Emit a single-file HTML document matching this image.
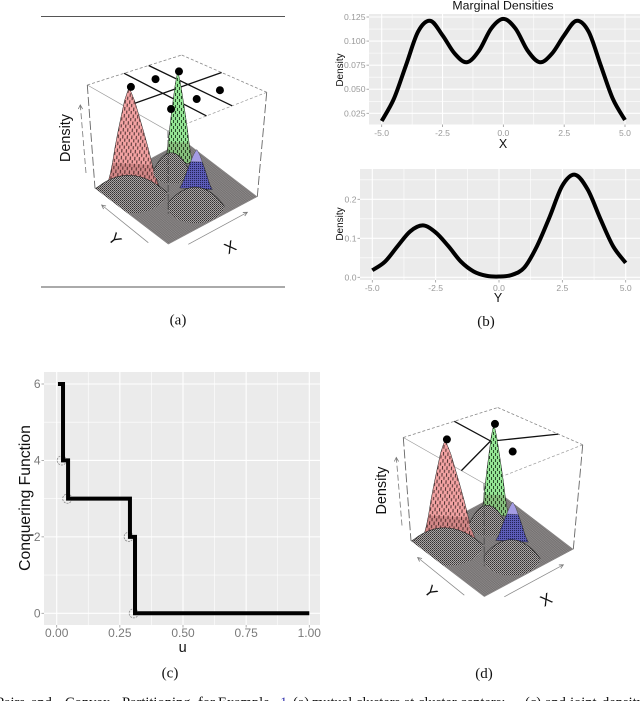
<!DOCTYPE html>
<html>
<head>
<meta charset="utf-8">
<title>Marginal densities and conquering function</title>
<style>
html,body{margin:0;padding:0;background:#fff;width:640px;height:701px;overflow:hidden}
svg{display:block;filter:blur(.35px)}
text{font-family:"Liberation Sans",sans-serif}
.serif{font-family:"Liberation Serif",serif}
</style>
</head>
<body>
<svg id="figure" xmlns="http://www.w3.org/2000/svg" width="640" height="701" viewBox="0 0 640 701">
  <defs>
    <pattern id="dash-red" width="4.5" height="7" patternUnits="userSpaceOnUse" patternTransform="rotate(4)">
      <rect x="1" y="0" width="1.1" height="3.6" fill="#1c1010" opacity=".75"/>
      <rect x="3.2" y="3.5" width="1.1" height="3.2" fill="#1c1010" opacity=".75"/>
    </pattern>
    <pattern id="dash-green" width="4" height="6" patternUnits="userSpaceOnUse">
      <rect x="1" y="0" width="1" height="3" fill="#0e2410" opacity=".8"/>
      <rect x="3" y="3" width="1" height="3" fill="#0e2410" opacity=".8"/>
    </pattern>
    <pattern id="dash-blue" width="2" height="2" patternUnits="userSpaceOnUse">
      <rect x="0" y="0" width="1" height="1" fill="#14143c" opacity=".8"/>
    </pattern>
    <pattern id="speckle" width="2" height="2" patternUnits="userSpaceOnUse">
      <rect width="2" height="2" fill="#aaa6a6"/>
      <rect x="0" y="0" width="1" height="1" fill="#333030"/>
      <rect x="1" y="1" width="1" height="1" fill="#555252"/>
    </pattern>
  </defs>
</svg>
<script>
/* ---------- marginal density X ---------- */
const marginalXPositions = [-5,-4.5,-4,-3.5,-3,-2.5,-2,-1.5,-1,-0.5,0,0.5,1,1.5,2,2.5,3,3.5,4,4.5,5];
const marginalXDensity = [0.017,0.040,0.075,0.110,0.121,0.106,0.087,0.078,0.090,0.113,0.123,0.113,0.090,0.078,0.087,0.106,0.121,0.110,0.075,0.040,0.018];
const marginalXTicksX = ["-5.0","-2.5","0.0","2.5","5.0"];
const marginalXTickValuesX = [-5,-2.5,0,2.5,5];
const marginalXTicksY = ["0.025","0.050","0.075","0.100","0.125"];
const marginalXTickValuesY = [0.025,0.05,0.075,0.1,0.125];
/* ---------- marginal density Y ---------- */
const marginalYPositions = [-5,-4.5,-4,-3.5,-3,-2.5,-2,-1.5,-1,-0.5,0,0.5,1,1.5,2,2.5,3,3.5,4,4.5,5];
const marginalYDensity = [0.018,0.040,0.080,0.118,0.133,0.115,0.080,0.040,0.015,0.004,0.002,0.006,0.025,0.080,0.155,0.235,0.263,0.225,0.150,0.080,0.037];
const marginalYTicksX = ["-5.0","-2.5","0.0","2.5","5.0"];
const marginalYTickValuesX = [-5,-2.5,0,2.5,5];
const marginalYTicksY = ["0.0","0.1","0.2"];
const marginalYTickValuesY = [0,0.1,0.2];
/* ---------- conquering function ---------- */
const conqueringU = [0.005,0.025,0.025,0.045,0.045,0.29,0.29,0.31,0.31,1];
const conqueringValue = [6,6,4,4,3,3,2,2,0,0];
const jumpU = [0.02,0.042,0.285,0.305];
const jumpValue = [4,3,2,0];
const conqueringTicksX = ["0.00","0.25","0.50","0.75","1.00"];
const conqueringTickValuesX = [0,0.25,0.5,0.75,1];
const conqueringTicksY = ["0","2","4","6"];
const conqueringTickValuesY = [0,2,4,6];
/* ---------- 3-D density surface (data units: x,y in -5..5, z in 0..1) ---------- */
const peakNames = ["green","red","blue"];
const peakX = [2.5,-2.55,1.53];
const peakY = [2.65,2.72,-0.85];
const peakHeight = [1,1,0.4];
const peakSpread = [0.52,1,0.62];
const peakFill = ["#93e493","#f4a3a3","#5c5cb8"];
const profileLevel = [1,0.95,0.87,0.7,0.55,0.4,0.25,0.15,0.08,0.03];
const profileWidth = [0,0.12,0.29,0.55,0.78,1.0,1.2,1.36,1.5,1.62];
const domeNames = ["green","blue","red"];
const domeX = [1.5,0.23,-2.8];
const domeY = [2.39,-2.43,2.7];
const domeRadius = [1.15,1.75,2.2];
const domeHeight = [0.2,0.17,0.15];
const dotsAX = [-2.34,0.18,2.62,-2.42,0.26,2.67];
const dotsAY = [2.74,2.67,2.65,-2.26,-2.2,-2.17];
const dotsDX = [-2.34,2.62,0.26];
const dotsDY = [2.74,2.65,-2.2];
const partitionA = [[[-1.1,5],[-1.1,-5]],[[1.5,5],[1.5,-5]],[[-5,0.3],[5,0.3]]];
const partitionD = [[[0.4,5],[0.2,0.4],[-5,-2.2]],[[0.2,0.4],[0.85,0.03],[5,-2.13]]];

const svg = document.getElementById('figure');
const NS = 'http://www.w3.org/2000/svg';
function make(tag, attrs, parent){
  const n = document.createElementNS(NS, tag);
  for (const k in attrs) n.setAttribute(k, attrs[k]);
  (parent || svg).appendChild(n);
  return n;
}
function scale(d0,d1,r0,r1){ return v => r0 + (v-d0)/(d1-d0)*(r1-r0); }
function smoothPath(pts){
  let d = 'M'+pts[0][0].toFixed(2)+' '+pts[0][1].toFixed(2);
  for (let i=0;i<pts.length-1;i++){
    const p0=pts[Math.max(i-1,0)],p1=pts[i],p2=pts[i+1],p3=pts[Math.min(i+2,pts.length-1)];
    const c1=[p1[0]+(p2[0]-p0[0])/6,p1[1]+(p2[1]-p0[1])/6];
    const c2=[p2[0]-(p3[0]-p1[0])/6,p2[1]-(p3[1]-p1[1])/6];
    d+=' C'+c1[0].toFixed(2)+' '+c1[1].toFixed(2)+' '+c2[0].toFixed(2)+' '+c2[1].toFixed(2)+' '+p2[0].toFixed(2)+' '+p2[1].toFixed(2);
  }
  return d;
}

/* generic ggplot-style panel */
function drawPanel(cfg){
  const g = make('g', {});
  
  
  const bg = make('rect', {x:cfg.left,y:cfg.top,width:cfg.right-cfg.left,height:cfg.bottom-cfg.top,fill:'#ebebeb'}, g);
  
  
  cfg.xTickValues.forEach((v,i)=>{
    if (i<cfg.xTickValues.length-1){
      const m=(v+cfg.xTickValues[i+1])/2;
      const minor=make('line',{x1:cfg.sx(m),x2:cfg.sx(m),y1:cfg.top,y2:cfg.bottom,stroke:'#fff','stroke-width':.6},g);
      
      
    }
    const major=make('line',{x1:cfg.sx(v),x2:cfg.sx(v),y1:cfg.top,y2:cfg.bottom,stroke:'#fff','stroke-width':1.1},g);
    
    
    const tick=make('line',{x1:cfg.sx(v),x2:cfg.sx(v),y1:cfg.bottom,y2:cfg.bottom+2.5,stroke:'#999','stroke-width':.8},g);
    
    
    const t=make('text',{x:cfg.sx(v),y:cfg.xTickY,'text-anchor':'middle','font-size':cfg.tickSize,fill:cfg.tickColor},g);
    t.textContent=cfg.xTicks[i];
    
    
  });
  const yv=cfg.yTickValues;
  const step=yv[1]-yv[0];
  for(let i=-1;i<yv.length+1;i++){
    const py=cfg.sy(yv[0]+(i+.5)*step);
    if(py>cfg.top&&py<cfg.bottom){
      const minor=make('line',{x1:cfg.left,x2:cfg.right,y1:py,y2:py,stroke:'#fff','stroke-width':.6},g);
      
      
    }
  }
  yv.forEach((v,i)=>{
    const major=make('line',{x1:cfg.left,x2:cfg.right,y1:cfg.sy(v),y2:cfg.sy(v),stroke:'#fff','stroke-width':1.1},g);
    
    
    const tick=make('line',{x1:cfg.left-2.5,x2:cfg.left,y1:cfg.sy(v),y2:cfg.sy(v),stroke:'#999','stroke-width':.8},g);
    
    
    const t=make('text',{x:cfg.left-3.5,y:cfg.sy(v)+cfg.tickSize*.35,'text-anchor':'end','font-size':cfg.tickSize,fill:cfg.tickColor},g);
    t.textContent=cfg.yTicks[i];
    
    
  });
  const xt=make('text',{x:cfg.xTitle[1],y:cfg.xTitle[2],'text-anchor':'middle','font-size':cfg.xTitle[3],fill:'#111'},g);
  xt.textContent=cfg.xTitle[0];
  
  
  const yt=make('text',{transform:'translate('+cfg.yTitle[1]+' '+cfg.yTitle[2]+') rotate(-90)','text-anchor':'middle','font-size':cfg.yTitle[3],fill:'#111'},g);
  yt.textContent=cfg.yTitle[0];
  
  
  return g;
}

/* panel b, top */
const bTopX = scale(-5,5,381.7,625);
const bTopY = scale(0.025,0.125,113.3,17);
const bTop = drawPanel({name:'marginal-x-panel',left:369,right:640,top:14,bottom:124.5,sx:bTopX,sy:bTopY,
  xTicks:marginalXTicksX,xTickValues:marginalXTickValuesX,yTicks:marginalXTicksY,yTickValues:marginalXTickValuesY,
  xTickY:136,tickSize:8.6,tickColor:'#999',xTitle:['X',503,148,12.5],yTitle:['Density',343,70,10]});
const bTopCurve = make('path',{d:smoothPath(marginalXPositions.map((v,i)=>[bTopX(v),bTopY(marginalXDensity[i])])),fill:'none',stroke:'#000','stroke-width':4,'stroke-linejoin':'round'},bTop);


const chartTitle = make('text',{x:503,y:9.5,'text-anchor':'middle','font-size':12.3,fill:'#111'},bTop);
chartTitle.textContent='Marginal Densities';



/* panel b, bottom */
const bBotX = scale(-5,5,372.3,625.7);
const bBotY = scale(0,0.2,277.3,199.3);
const bBot = drawPanel({name:'marginal-y-panel',left:360,right:640,top:169,bottom:280,sx:bBotX,sy:bBotY,
  xTicks:marginalYTicksX,xTickValues:marginalYTickValuesX,yTicks:marginalYTicksY,yTickValues:marginalYTickValuesY,
  xTickY:291,tickSize:8.6,tickColor:'#999',xTitle:['Y',498,302,12.5],yTitle:['Density',343,224,10]});
const bBotCurve = make('path',{d:smoothPath(marginalYPositions.map((v,i)=>[bBotX(v),bBotY(marginalYDensity[i])])),fill:'none',stroke:'#000','stroke-width':4,'stroke-linejoin':'round'},bBot);



/* panel c */
const cX = scale(0,1,56.7,309.3);
const cY = scale(0,6,613.3,384);
const cPanel = drawPanel({name:'conquering-function-panel',left:44,right:320,top:372,bottom:625,sx:cX,sy:cY,
  xTicks:conqueringTicksX,xTickValues:conqueringTickValuesX,yTicks:conqueringTicksY,yTickValues:conqueringTickValuesY,
  xTickY:637,tickSize:12,tickColor:'#7a7a7a',xTitle:['u',182.7,652,14.5],yTitle:['Conquering Function',30,498,15.7]});
jumpU.forEach((u,i)=>{
  const c=make('circle',{cx:cX(u),cy:cY(jumpValue[i]),r:4.6,fill:'none',stroke:'#888','stroke-width':.8,'stroke-dasharray':'2 1'},cPanel);
  
  
});
const cLine = make('polyline',{points:conqueringU.map((u,i)=>cX(u).toFixed(2)+','+cY(conqueringValue[i]).toFixed(2)).join(' '),fill:'none',stroke:'#000','stroke-width':4,'stroke-linejoin':'miter'},cPanel);



/* 3-D perspective panels */
const floorBottom=[168.3,244.3], floorRight=[257.3,196.7], floorLeft=[95,188.3], floorBack=[184,140.7];
const topFront=[168,131], topRight=[266.7,92.3], topLeft=[87.3,85], topBack=[181.7,55];
function makeProject(ox,oy){
  return function(x,y,z){
    const u=(x+5)/10, v=(y+5)/10;
    const bl=(a,b,c,d,k)=>(1-u)*(1-v)*a[k]+u*(1-v)*b[k]+(1-u)*v*c[k]+u*v*d[k];
    const fx=bl(floorBottom,floorRight,floorLeft,floorBack,0), fy=bl(floorBottom,floorRight,floorLeft,floorBack,1);
    const tx=bl(topFront,topRight,topLeft,topBack,0), ty=bl(topFront,topRight,topLeft,topBack,1);
    return [ox+fx+(tx-fx)*z, oy+fy+(ty-fy)*z];
  };
}
const ptsAttr = a => a.map(p=>p[0].toFixed(2)+','+p[1].toFixed(2)).join(' ');

function drawPersp(ox,oy,name,partition,dotsX,dotsY){
  const P = makeProject(ox,oy);
  const g = make('g',{});
  
  
  function edge(a,b,dash,col,w,label){
    const l=make('line',{x1:a[0],y1:a[1],x2:b[0],y2:b[1],stroke:col,'stroke-width':w,'stroke-dasharray':dash},g);
    
    
    return l;
  }
  /* box */
  edge(P(-5,5,1),P(5,5,1),'3 2','#888',.8,'box-edge');
  edge(P(5,5,1),P(5,-5,1),'3 2','#888',.8,'box-edge');
  edge(P(-5,5,1),P(-5,-5,1),'none','#999',.7,'box-edge');
  edge(P(5,-5,1),P(-5,-5,1),'3 2','#999',.7,'box-edge');
  edge(P(-5,5,1),P(-5,5,0),'9 3','#666',.9,'box-edge');
  edge(P(5,-5,1),P(5,-5,0),'9 3','#666',.9,'box-edge');
  /* partition on the top plane */
  partition.forEach(seg=>{
    const pl=make('polyline',{points:ptsAttr(seg.map(s=>P(s[0],s[1],1))),fill:'none',stroke:'#111','stroke-width':1.3},g);
    
    
  });
  /* floor */
  const floor=make('polygon',{points:ptsAttr([P(-5,-5,0),P(5,-5,0),P(5,5,0),P(-5,5,0)]),fill:'#8f8b8b'},g);
  
  
  for(let i=0;i<=60;i++){
    const t=-5+i/6;
    const m1=make('line',{x1:P(t,-5,0)[0],y1:P(t,-5,0)[1],x2:P(t,5,0)[0],y2:P(t,5,0)[1],stroke:'#333','stroke-width':.22,'stroke-opacity':.7},g);
    
    
    const m2=make('line',{x1:P(-5,t,0)[0],y1:P(-5,t,0)[1],x2:P(5,t,0)[0],y2:P(5,t,0)[1],stroke:'#333','stroke-width':.22,'stroke-opacity':.7},g);
    
    
  }
  /* peaks */
  function peakOutline(i,minLevel,maxLevel){
    const left=[],right=[];
    profileLevel.forEach((lv,k)=>{
      if(lv<minLevel||lv>maxLevel) return;
      const w=profileWidth[k]*peakSpread[i], z=lv*peakHeight[i];
      left.push(P(peakX[i]-w,peakY[i]+w,z));
      right.push(P(peakX[i]+w,peakY[i]-w,z));
    });
    return left.reverse().concat(right);
  }
  function drawPeak(i){
    const base=make('polygon',{points:ptsAttr(peakOutline(i,0,1)),fill:peakFill[i]},g);
    
    
    const tex=make('polygon',{points:ptsAttr(peakOutline(i,0,1)),fill:'url(#dash-'+peakNames[i]+')',stroke:'#222','stroke-width':.5},g);
    
    
    if(peakNames[i]==='blue'){
      const cap=make('polygon',{points:ptsAttr(peakOutline(i,0.7,1)),fill:'#a49ce4',stroke:'#555','stroke-width':.3},g);
      
      
    } else {
      const shade=make('polygon',{points:ptsAttr(peakOutline(i,0,0.25)),fill:'#401010','fill-opacity':.18},g);
      
      
    }
  }
  const clampFloor = v => Math.max(-5,Math.min(5,v));
  function drawDome(i){
    const pts=[], arch=[], x=domeX[i], y=domeY[i], r=domeRadius[i], h=domeHeight[i], R=r*Math.SQRT2;
    for(let s=-1;s<=1.001;s+=.1){
      const q=P(clampFloor(x+r*s),clampFloor(y-r*s),h*(1-s*s));
      pts.push(q);
      arch.push(q);
    }
    for(let a=315;a>=135;a-=15){ const t=a*Math.PI/180; pts.push(P(clampFloor(x+R*Math.cos(t)),clampFloor(y+R*Math.sin(t)),0)); }
    const d=make('polygon',{points:ptsAttr(pts),fill:'url(#speckle)'},g);
    
    
    const rim=make('polyline',{points:ptsAttr(arch),fill:'none',stroke:'#222','stroke-width':.6},g);
    
    
  }
  drawPeak(0);
  drawPeak(1);
  drawDome(0);
  drawPeak(2);
  drawDome(1);
  drawDome(2);
  edge(P(-5,-5,1),P(-5,-5,0.27),'7 2','#444',.8,'box-edge');
  /* axis arrows */
  function arrow(a,b,label){
    edge(a,b,'none','#888',.8,label);
    const dx=b[0]-a[0],dy=b[1]-a[1],n=Math.hypot(dx,dy),ux=dx/n,uy=dy/n;
    const head=make('polyline',{points:ptsAttr([[b[0]-4*ux-2*uy,b[1]-4*uy+2*ux],b,[b[0]-4*ux+2*uy,b[1]-4*uy-2*ux]]),fill:'none',stroke:'#777','stroke-width':.8},g);
    
    
  }
  edge([ox+86,oy+173],[ox+80.3,oy+105],'6 3','#777',.8,'density-axis-arrow');
  const dHead=make('polyline',{points:ptsAttr([[ox+78.3,oy+109],[ox+80.3,oy+105],[ox+82.6,oy+109]]),fill:'none',stroke:'#777','stroke-width':.8},g);
  
  
  arrow([ox+148.3,oy+242.7],[ox+101.7,oy+205],'y-axis-arrow');
  arrow([ox+188.3,oy+244.3],[ox+247.3,oy+212.3],'x-axis-arrow');
  const ld=make('text',{transform:'translate('+(ox+70)+' '+(oy+138)+') rotate(-90)','text-anchor':'middle','font-size':14.4,fill:'#111'},g);
  ld.textContent='Density';
  
  
  const ly=make('text',{transform:'translate('+(ox+115)+' '+(oy+239)+') rotate(50)','text-anchor':'middle','font-size':16,fill:'#111',dy:'.35em'},g);
  ly.textContent='Y';
  
  
  const lx=make('text',{transform:'translate('+(ox+230)+' '+(oy+247)+') rotate(-30)','text-anchor':'middle','font-size':16,fill:'#111',dy:'.35em'},g);
  lx.textContent='X';
  
  
  /* dots */
  dotsX.forEach((x,i)=>{
    const q=P(x,dotsY[i],1);
    const c=make('circle',{cx:q[0],cy:q[1],r:4,fill:'#000'},g);
    
    
  });
}
drawPersp(0,0,'density-surface-a',partitionA,dotsAX,dotsAY);
drawPersp(316,352.5,'density-surface-d',partitionD,dotsDX,dotsDY);

/* rules, captions */
[16.5,287].forEach(y=>{
  const r=make('line',{x1:41,x2:285,y1:y,y2:y,stroke:'#555','stroke-width':1});
  
  
});
[['(a)',178,324.5],['(b)',486,326],['(c)',170,677.5],['(d)',484,678]].forEach(c=>{
  const t=make('text',{x:c[1],y:c[2],'text-anchor':'middle','font-size':15,fill:'#111',class:'serif'});
  t.textContent=c[0];
  
  
});
const caption=make('text',{x:-4,y:707,'font-size':14.5,fill:'#111',class:'serif'});


const captionWords=["Pairs","and","Convex","Partitioning","for","Example","1","(a)","mutual clusters at","cluster centers;","(c)","and","joint","density"];
const captionStart=[-4,31,65,122,198,218,280,293,312,418,525,545,570,602];
captionWords.forEach((w,i)=>{
  const sp=make('tspan',{x:captionStart[i]},caption);
  sp.textContent=w;
  if(w==='1'){
    sp.setAttribute('fill','#3a3ab0');
    
    
  } else {
    
    
  }
});
</script>
</body>
</html>
